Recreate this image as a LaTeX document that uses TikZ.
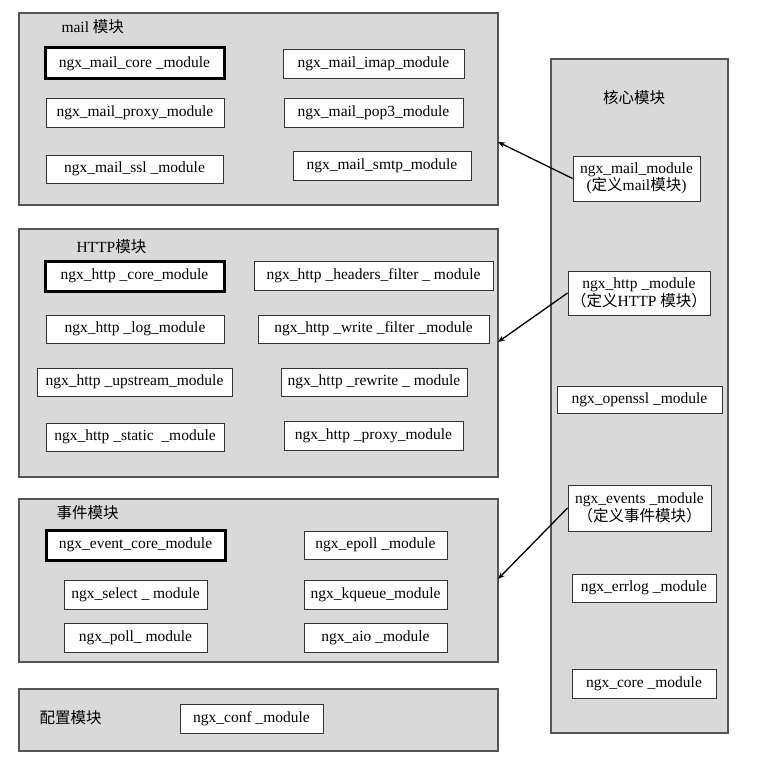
\documentclass[tikz,border=0pt]{standalone}
\usepackage{fontspec}
\setmainfont{Liberation Serif}
\newfontfamily\cjk{Noto Sans CJK SC}
\usetikzlibrary{calc}
\usetikzlibrary{arrows.meta}
\definecolor{panelgray}{RGB}{217,217,217}
\definecolor{edgegray}{RGB}{85,85,85}
\tikzset{
	panel/.style={draw=edgegray, fill=panelgray, line width=1.2pt, inner sep=0pt},
	modbox/.style={draw=black!80, fill=white, line width=0.9pt, inner sep=0pt, align=center, font=\fontsize{15.5}{17.5}\selectfont},
	corebox/.style={modbox, draw=black, line width=3pt},
	title/.style={anchor=west, font=\fontsize{15.5}{17.5}\selectfont},
	conn/.style={-{Stealth[length=7pt,width=5.5pt]}, line width=1.3pt}
}
\newcommand{\blk}[7] % style, name, left, top, right, bottom (px), text
{
	\node[#1, minimum width={(#5-#3)*1pt}, minimum height={(#6-#4)*1pt}] (#2) at ({(#3+#5)/2},{(#4+#6)/2}) {#7};
}

\begin{document}
\begin{tikzpicture}[x=1pt, y=-1pt]
	\useasboundingbox (0,0) rectangle (778,762);
	% panels
	\blk{panel}{mailp}{19}{13}{498}{205}{};
	\blk{panel}{httpp}{19}{229}{498}{477}{};
	\blk{panel}{eventp}{19}{499}{498}{662}{};
	\blk{panel}{confp}{19}{689}{498}{751}{};
	\blk{panel}{corep}{551}{59}{728}{733}{};
	
	% mail
	\node[title] (mailt) at (58,27) {mail {\cjk 模块}};
	\blk{corebox}{mailcore}{45}{48}{224}{79}{ngx\_mail\_core \_module};
	\blk{modbox}{mailimap}{283}{49}{464}{78}{ngx\_mail\_imap\_module};
	\blk{modbox}{mailproxy}{46}{98}{224}{127}{ngx\_mail\_proxy\_module};
	\blk{modbox}{mailpop}{284}{98}{463}{127}{ngx\_mail\_pop3\_module};
	\blk{modbox}{mailssl}{46}{155}{223}{183}{ngx\_mail\_ssl \_module};
	\blk{modbox}{mailsmtp}{293}{151}{471}{180}{ngx\_mail\_smtp\_module};
	
	% http
	\node[title] (httpt) at (73,247) {HTTP{\cjk 模块}};
	\blk{corebox}{httpcore}{45}{261}{224}{291}{ngx\_http \_core\_module};
	\blk{modbox}{httphead}{254}{261}{493}{290}{ngx\_http \_headers\_filter \_ module};
	\blk{modbox}{httplog}{46}{315}{224}{343}{ngx\_http \_log\_module};
	\blk{modbox}{httpwrite}{258}{315}{489}{343}{ngx\_http \_write \_filter \_module};
	\blk{modbox}{httpup}{37}{368}{232}{396}{ngx\_http \_upstream\_module};
	\blk{modbox}{httprew}{281}{368}{467}{396}{ngx\_http \_rewrite \_ module};
	\blk{modbox}{httpstat}{46}{423}{224}{451}{ngx\_http \_static \ \_module};
	\blk{modbox}{httpproxy}{284}{421}{463}{450}{ngx\_http \_proxy\_module};
	
	% events
	\node[title] (eventt) at (53,513) {\cjk 事件模块};
	\blk{corebox}{evcore}{46}{530}{225}{560}{ngx\_event\_core\_module};
	\blk{modbox}{evepoll}{304}{531}{447}{559}{ngx\_epoll \_module};
	\blk{modbox}{evselect}{64}{580}{207}{609}{ngx\_select \_ module};
	\blk{modbox}{evkq}{304}{580}{447}{609}{ngx\_kqueue\_module};
	\blk{modbox}{evpoll}{64}{623}{207}{652}{ngx\_poll\_ module};
	\blk{modbox}{evaio}{304}{623}{447}{652}{ngx\_aio \_module};
	
	% conf
	\node[title] (conft) at (36,718) {\cjk 配置模块};
	\blk{modbox}{confm}{180}{704}{323}{733}{ngx\_conf \_module};
	
	% core
	\node[title, anchor=center] (coret) at (634,98) {\cjk 核心模块};
	\blk{modbox}{mailm}{573}{156}{700}{201}{ngx\_mail\_module\\({\cjk 定义}mail{\cjk 模块})};
	\blk{modbox}{httpm}{568}{271}{710}{315}{ngx\_http \_module\\{\cjk （定义}HTTP {\cjk 模块）}};
	\blk{modbox}{sslm}{557}{386}{722}{413}{ngx\_openssl \_module};
	\blk{modbox}{eventsm}{568}{485}{711}{531}{ngx\_events \_module\\{\cjk （定义事件模块）}};
	\blk{modbox}{errlogm}{572}{574}{716}{602}{ngx\_errlog \_module};
	\blk{modbox}{corem}{572}{669}{716}{698}{ngx\_core \_module};
	
	% arrows
	\coordinate (mailin) at (498,142);
	\coordinate (httpin) at (498,342);
	\coordinate (eventin) at (498,579);
	\draw[conn] (mailm.west) -- (mailin);
	\draw[conn] (httpm.west) -- (httpin);
	\draw[conn] (eventsm.west) -- (eventin);
\end{tikzpicture}
\end{document}
